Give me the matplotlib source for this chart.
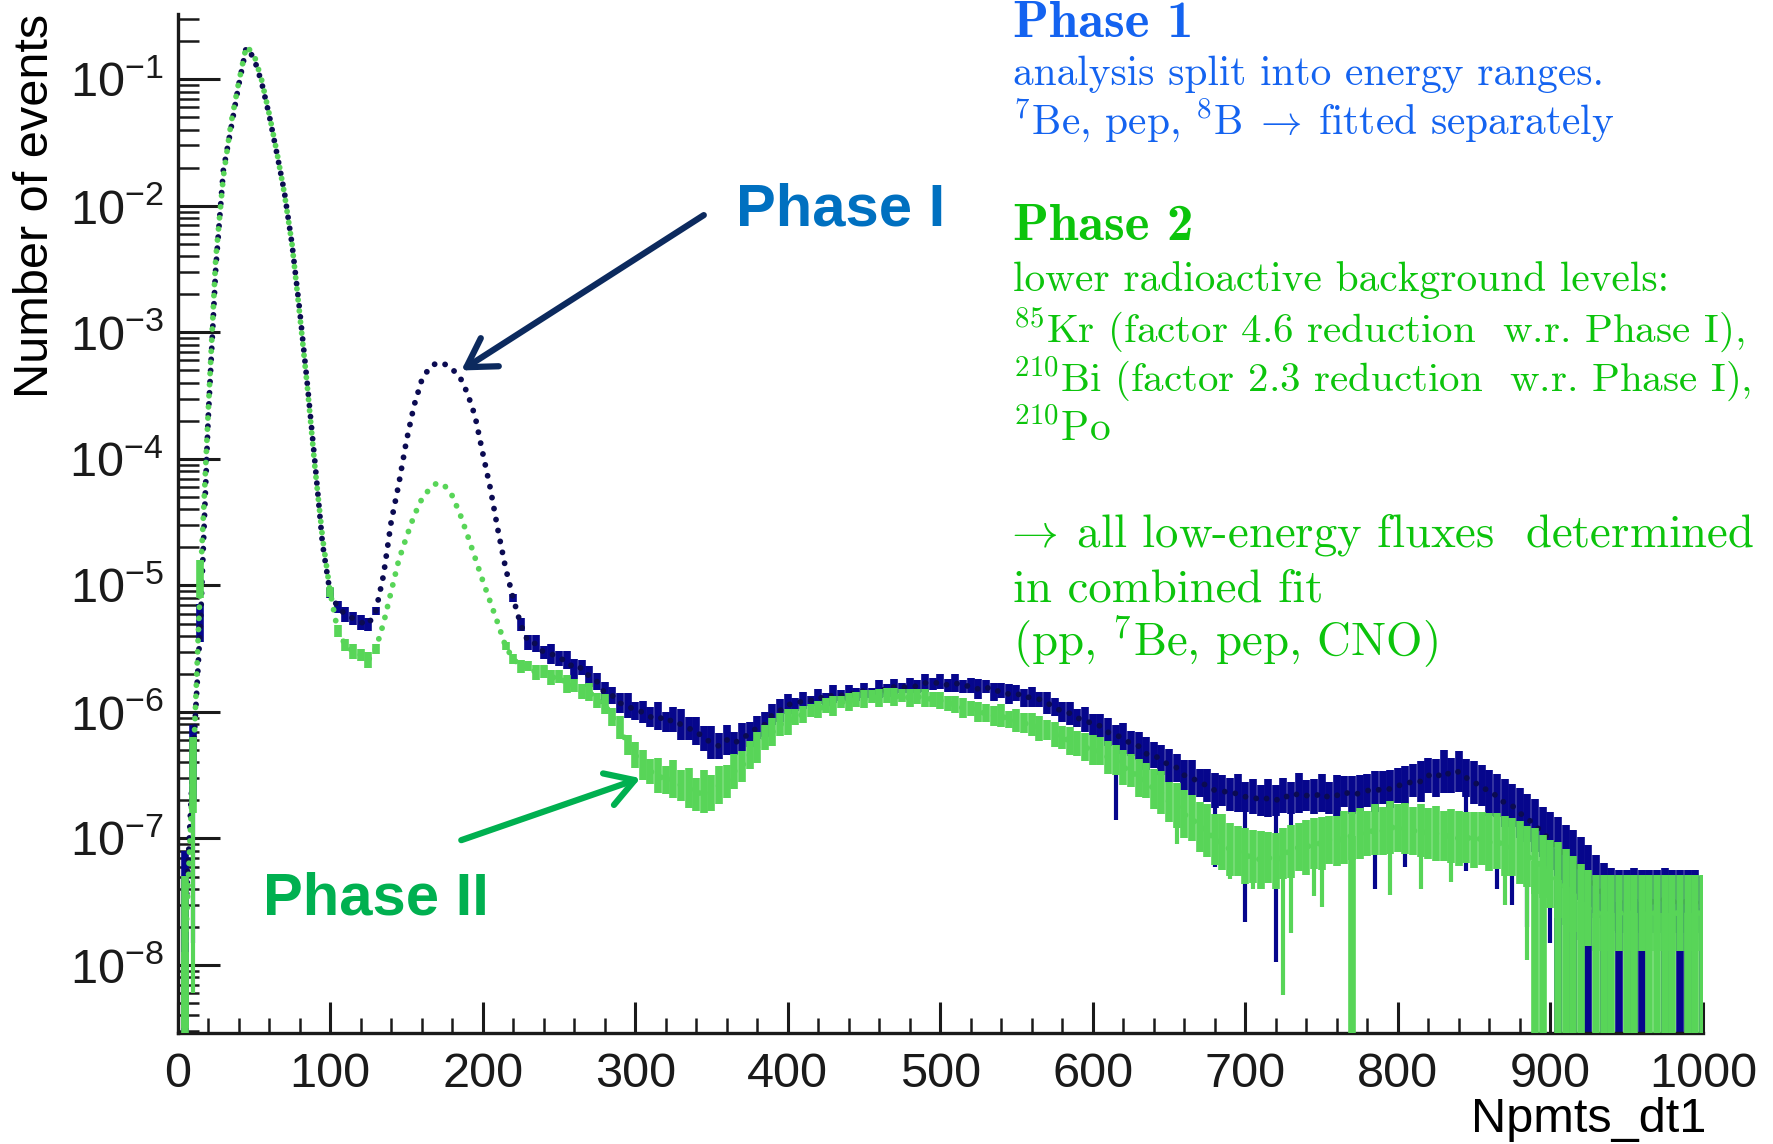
import numpy as np
import matplotlib
matplotlib.use("Agg")
import matplotlib.pyplot as plt
from matplotlib.ticker import LogLocator, MultipleLocator, LogFormatterSciNotation, NullFormatter

plt.rcParams['font.family'] = 'Liberation Sans'
plt.rcParams['mathtext.fontset'] = 'custom'
plt.rcParams['mathtext.rm'] = 'Liberation Sans'
plt.rcParams['mathtext.it'] = 'Liberation Sans:italic'
plt.rcParams['mathtext.bf'] = 'Liberation Sans:bold'

# bins of Npmts_dt1 (every 5th bin)
npmts = np.arange(5, 1001, 5)

# Phase I, log10(events)
phase1_log = [
    -7.7, -6.4, -5.3, -3.7, -2.5, -1.72, -1.39, -1.05, -0.75, -0.83, -1.02, -1.28, -1.58, -1.89, -2.3, -2.82, -3.4, -4.02, -4.67, -5.06,
    -5.17, -5.23, -5.26, -5.29, -5.31, -5.2, -4.92, -4.5, -4.2, -3.86, -3.58, -3.38, -3.28, -3.24, -3.25, -3.29, -3.35, -3.48, -3.66, -3.95,
    -4.23, -4.56, -4.86, -5.1, -5.31, -5.45, -5.46, -5.53, -5.54, -5.58, -5.59, -5.66, -5.65, -5.72, -5.76, -5.85, -5.87, -5.93, -5.95, -5.99,
    -6.0, -6.04, -6.03, -6.08, -6.06, -6.1, -6.13, -6.15, -6.21, -6.24, -6.27, -6.22, -6.25, -6.2, -6.18, -6.12, -6.1, -6.02, -5.99, -5.94,
    -5.94, -5.91, -5.91, -5.88, -5.9, -5.86, -5.87, -5.85, -5.86, -5.83, -5.85, -5.82, -5.83, -5.8, -5.81, -5.79, -5.8, -5.77, -5.78, -5.76,
    -5.79, -5.77, -5.8, -5.79, -5.82, -5.8, -5.84, -5.83, -5.86, -5.85, -5.89, -5.88, -5.9, -5.93, -5.96, -6.0, -6.01, -6.05, -6.06, -6.1,
    -6.11, -6.16, -6.18, -6.21, -6.25, -6.27, -6.33, -6.34, -6.38, -6.42, -6.44, -6.5, -6.52, -6.56, -6.58, -6.62, -6.62, -6.65, -6.64, -6.67,
    -6.67, -6.7, -6.68, -6.7, -6.66, -6.68, -6.64, -6.66, -6.67, -6.64, -6.68, -6.66, -6.63, -6.66, -6.64, -6.62, -6.63, -6.6, -6.61, -6.58,
    -6.58, -6.54, -6.55, -6.5, -6.52, -6.47, -6.5, -6.47, -6.52, -6.56, -6.58, -6.64, -6.66, -6.72, -6.74, -6.8, -6.84, -6.9, -6.95, -7.02,
    -7.08, -7.14, -7.18, -7.24, -7.3, -7.38, -7.44, -7.48, -7.5, -7.5, -7.48, -7.5, -7.5, -7.5, -7.48, -7.5, -7.5, -7.5, -7.5, -7.55,
]
# visible scatter of the Phase I band (dex)
phase1_spread = [
    0.6, 0.3, 0.15, 0, 0, 0, 0, 0, 0, 0, 0, 0, 0, 0, 0, 0, 0, 0, 0, 0.04,
    0.05, 0.06, 0.05, 0.06, 0.05, 0.03, 0, 0, 0, 0, 0, 0, 0, 0, 0, 0, 0, 0, 0, 0,
    0, 0, 0, 0.03, 0.05, 0.06, 0.07, 0.05, 0.08, 0.06, 0.07, 0.08, 0.06, 0.08, 0.07, 0.09, 0.07, 0.08, 0.1, 0.07,
    0.09, 0.08, 0.11, 0.08, 0.1, 0.12, 0.09, 0.11, 0.1, 0.13, 0.1, 0.12, 0.09, 0.11, 0.1, 0.09, 0.1, 0.08, 0.09, 0.08,
    0.05, 0.07, 0.04, 0.06, 0.05, 0.07, 0.04, 0.06, 0.05, 0.06, 0.04, 0.07, 0.05, 0.06, 0.04, 0.06, 0.05, 0.07, 0.05, 0.06,
    0.05, 0.07, 0.05, 0.06, 0.08, 0.05, 0.07, 0.06, 0.08, 0.06, 0.07, 0.08, 0.06, 0.09, 0.07, 0.08, 0.09, 0.07, 0.1, 0.08,
    0.09, 0.11, 0.08, 0.12, 0.1, 0.11, 0.13, 0.1, 0.12, 0.13, 0.11, 0.12, 0.14, 0.11, 0.13, 0.14, 0.12, 0.13, 0.15, 0.12,
    0.14, 0.12, 0.15, 0.12, 0.14, 0.13, 0.16, 0.12, 0.14, 0.15, 0.13, 0.16, 0.12, 0.15, 0.14, 0.13, 0.16, 0.13, 0.15, 0.14,
    0.15, 0.13, 0.16, 0.14, 0.15, 0.17, 0.14, 0.16, 0.15, 0.17, 0.16, 0.18, 0.17, 0.19, 0.17, 0.2, 0.19, 0.21, 0.2, 0.23,
    0.25, 0.25, 0.25, 0.25, 0.25, 0.25, 0.25, 0.25, 0.25, 0.25, 0.25, 0.25, 0.25, 0.25, 0.25, 0.25, 0.25, 0.25, 0.25, 0.25,
]
# bins where the Phase I error bar reaches far down
phase1_spike_x = [5, 10, 615, 680, 700, 720, 730, 785, 805, 845, 865, 875, 885, 900,
                  905, 915, 925, 935, 945, 955, 960, 975, 985, 990, 1000]
phase1_spike_lo = [1e-9, 1.5e-8, 1.4e-7, 6e-8, 2.2e-8, 1.05e-8, 5e-8, 4e-8, 6e-8, 5.5e-8, 4e-8, 3e-8, 2e-8, 1.5e-8,
                   1e-9, 1e-9, 1e-9, 1e-9, 1e-9, 1e-9, 1e-9, 1e-9, 1e-9, 1e-9, 1e-9]

# Phase II
phase2_log = [
    -7.9, -6.5, -4.95, -3.65, -2.42, -1.77, -1.35, -1.03, -0.74, -0.8, -1.0, -1.27, -1.57, -1.9, -2.3, -2.85, -3.42, -4.06, -4.62, -5.05,
    -5.36, -5.47, -5.52, -5.55, -5.59, -5.5, -5.3, -5.05, -4.8, -4.62, -4.45, -4.32, -4.24, -4.19, -4.21, -4.29, -4.43, -4.6, -4.78, -4.96,
    -5.13, -5.3, -5.48, -5.58, -5.64, -5.64, -5.69, -5.68, -5.73, -5.72, -5.78, -5.79, -5.84, -5.84, -5.91, -5.94, -6.04, -6.12, -6.26, -6.34,
    -6.42, -6.47, -6.5, -6.54, -6.53, -6.58, -6.6, -6.65, -6.63, -6.64, -6.58, -6.55, -6.47, -6.43, -6.34, -6.28, -6.2, -6.16, -6.1, -6.08,
    -6.04, -6.02, -5.99, -5.98, -5.95, -5.95, -5.92, -5.92, -5.9, -5.9, -5.88, -5.89, -5.87, -5.88, -5.87, -5.89, -5.88, -5.89, -5.9, -5.91,
    -5.93, -5.94, -5.97, -5.97, -6.0, -6.01, -6.03, -6.03, -6.06, -6.07, -6.09, -6.1, -6.13, -6.14, -6.18, -6.2, -6.23, -6.25, -6.28, -6.3,
    -6.31, -6.36, -6.38, -6.44, -6.46, -6.52, -6.54, -6.61, -6.64, -6.71, -6.74, -6.81, -6.84, -6.91, -6.94, -7.01, -7.03, -7.09, -7.1, -7.14,
    -7.14, -7.17, -7.15, -7.18, -7.12, -7.1, -7.07, -7.07, -7.04, -7.04, -7.01, -7.02, -6.99, -6.98, -6.96, -6.96, -6.93, -6.94, -6.91, -6.92,
    -6.92, -6.94, -6.94, -6.96, -6.96, -6.98, -6.98, -7.0, -6.99, -7.01, -7.0, -7.03, -7.02, -7.06, -7.07, -7.11, -7.14, -7.18, -7.22, -7.28,
    -7.33, -7.38, -7.44, -7.5, -7.55, -7.59, -7.59, -7.59, -7.59, -7.59, -7.59, -7.59, -7.59, -7.59, -7.59, -7.59, -7.59, -7.59, -7.59, -7.59,
]
phase2_spread = [
    0.6, 0.3, 0.15, 0, 0, 0, 0, 0, 0, 0, 0, 0, 0, 0, 0, 0, 0, 0, 0, 0.04,
    0.05, 0.05, 0.06, 0.05, 0.06, 0.04, 0, 0, 0, 0, 0, 0, 0, 0, 0, 0, 0, 0, 0, 0,
    0, 0, 0.03, 0.04, 0.05, 0.04, 0.06, 0.05, 0.06, 0.05, 0.07, 0.05, 0.06, 0.07, 0.06, 0.08, 0.07, 0.09, 0.08, 0.1,
    0.12, 0.1, 0.14, 0.11, 0.15, 0.12, 0.16, 0.13, 0.17, 0.14, 0.15, 0.13, 0.14, 0.12, 0.11, 0.12, 0.1, 0.11, 0.09, 0.1,
    0.06, 0.07, 0.05, 0.07, 0.06, 0.08, 0.05, 0.07, 0.06, 0.07, 0.05, 0.07, 0.06, 0.07, 0.05, 0.07, 0.06, 0.07, 0.06, 0.07,
    0.06, 0.07, 0.08, 0.06, 0.08, 0.07, 0.08, 0.09, 0.07, 0.09, 0.08, 0.09, 0.1, 0.08, 0.1, 0.09, 0.11, 0.1, 0.11, 0.12,
    0.11, 0.13, 0.12, 0.14, 0.13, 0.15, 0.14, 0.16, 0.17, 0.16, 0.18, 0.19, 0.18, 0.2, 0.21, 0.2, 0.22, 0.21, 0.2, 0.22,
    0.21, 0.23, 0.2, 0.22, 0.2, 0.21, 0.19, 0.22, 0.2, 0.21, 0.19, 0.2, 0.21, 0.19, 0.2, 0.18, 0.2, 0.19, 0.21, 0.19,
    0.2, 0.19, 0.21, 0.2, 0.22, 0.2, 0.21, 0.22, 0.2, 0.22, 0.21, 0.23, 0.22, 0.24, 0.23, 0.25, 0.24, 0.26, 0.25, 0.27,
    0.3, 0.3, 0.3, 0.3, 0.3, 0.3, 0.3, 0.3, 0.3, 0.3, 0.3, 0.3, 0.3, 0.3, 0.3, 0.3, 0.3, 0.3, 0.3, 0.3,
]
phase2_spike_x = [5, 10, 655, 690, 705, 725, 730, 745, 750, 770, 795, 815, 835, 860, 870, 885, 890, 895,
                  905, 910, 915, 920, 930, 935, 940, 950, 955, 965, 970, 975, 980, 990, 995, 1000]
phase2_spike_lo = [1e-9, 6e-9, 9e-8, 4.8e-8, 4e-8, 5.8e-9, 1.8e-8, 3.5e-8, 2.9e-8, 1e-9, 3.6e-8, 4e-8, 4.5e-8, 6e-8, 3e-8, 1.1e-8, 1e-9, 1e-9,
                   1e-9, 1e-9, 1e-9, 1e-9, 1e-9, 1e-9, 1e-9, 1e-9, 1e-9, 1e-9, 1e-9, 1e-9, 1e-9, 1e-9, 1e-9, 1e-9]

navy = '#06068c'
navy_dot = '#0b0b52'
green = '#58d558'

fig = plt.figure(figsize=(17.74, 11.44), dpi=100)
ax = fig.add_axes([0.1001, 0.097, 0.8598, 0.891])


def draw_phase(vals_log, spread, spike_x, spike_lo, col, dotcol, z):
    vals = 10.0 ** np.array(vals_log)
    sp = 10.0 ** np.array(spread)
    ax.vlines(npmts, vals / sp, vals * sp, color=col, lw=5.5, zorder=z)
    idx = np.searchsorted(npmts, spike_x)
    lo = np.array(spike_lo)
    widths = np.where(lo <= 1e-9, 5.5, 3.0)
    ax.vlines(spike_x, lo, vals[idx], color=col, linewidths=widths, zorder=z)
    ax.plot(npmts, vals, color=dotcol, lw=4.2, linestyle=(0, (0.01, 1.9)),
            dash_capstyle='round', zorder=z + 0.1)


draw_phase(phase1_log, phase1_spread, phase1_spike_x, phase1_spike_lo, navy, navy_dot, 2)
draw_phase(phase2_log, phase2_spread, phase2_spike_x, phase2_spike_lo, green, green, 3)

ax.set_yscale('log')
ax.set_xlim(0, 1000)
ax.set_ylim(2.9e-9, 0.33)

ax.spines['top'].set_visible(False)
ax.spines['right'].set_visible(False)
for s in ['left', 'bottom']:
    ax.spines[s].set_linewidth(2.4)
    ax.spines[s].set_color('#1a1a1a')

ax.yaxis.set_major_locator(LogLocator(base=10, numticks=20))
ax.yaxis.set_minor_locator(LogLocator(base=10, subs=np.arange(2, 10), numticks=100))
ax.yaxis.set_major_formatter(LogFormatterSciNotation())
ax.yaxis.set_minor_formatter(NullFormatter())
ax.xaxis.set_major_locator(MultipleLocator(100))
ax.xaxis.set_minor_locator(MultipleLocator(20))

ax.tick_params(axis='y', which='major', direction='in', length=30, width=2.2, pad=10, labelsize=35)
ax.tick_params(axis='y', which='minor', direction='in', length=15, width=1.8)
ax.tick_params(axis='x', which='major', direction='in', length=22, width=2.2, pad=14, labelsize=35)
ax.tick_params(axis='x', which='minor', direction='in', length=11, width=1.8)
ax.tick_params(top=False, right=False, which='both', colors='#1a1a1a')

fig.text(36 / 1774, 1 - 206 / 1144, 'Number of events', rotation=90,
         ha='center', va='center', fontsize=35)
fig.text(1706 / 1774, 1 - 1120 / 1144, 'Npmts_dt1', ha='right', va='center', fontsize=35)

# arrows and labels for the two phases
ax.annotate('', xy=(186, 5.0e-4), xytext=(345, 8.45e-3),
            arrowprops=dict(arrowstyle='->, head_length=0.5, head_width=0.3', lw=4.5,
                            color='#0c2a5e', mutation_scale=40, shrinkA=0, shrinkB=0))
ax.text(366, 7.05e-3, 'Phase I', fontsize=43, fontweight='bold', color='#0070c0',
        ha='left', va='baseline')
ax.annotate('', xy=(303.5, 3.0e-7), xytext=(186, 9.7e-8),
            arrowprops=dict(arrowstyle='->, head_length=0.5, head_width=0.3', lw=4.5,
                            color='#00b050', mutation_scale=40, shrinkA=0, shrinkB=0))
ax.text(55.7, 2.49e-8, 'Phase II', fontsize=43, fontweight='bold', color='#00b050',
        ha='left', va='baseline')

# notes on the right
blue = '#1463f0'
lime = '#0cc40c'
notes = [
    ('Phase 1', 37, blue, 'cmb10', 38),
    ('analysis split into energy ranges.', 85, blue, 'cmr10', 29.8),
    (r'$^{7}$Be, pep, $^{8}$B$\;\rightarrow\;$fitted separately', 133.5, blue, 'cmr10', 29.8),
    ('Phase 2', 240, lime, 'cmb10', 38),
    ('lower radioactive background levels:', 291, lime, 'cmr10', 29.8),
    (r'$^{85}$Kr (factor 4.6 reduction  w.r. Phase I),', 342, lime, 'cmr10', 29.5),
    (r'$^{210}$Bi (factor 2.3 reduction  w.r. Phase I),', 391.5, lime, 'cmr10', 29.5),
    (r'$^{210}$Po', 441, lime, 'cmr10', 29.8),
    (r'$\!\!\rightarrow\;$all low-energy fluxes  determined', 546.5, lime, 'cmr10', 33.7),
    ('in combined fit', 602, lime, 'cmr10', 33.7),
    (r'(pp, $^{7}$Be, pep, CNO)', 656, lime, 'cmr10', 33.7),
]
for txt, ypx, col, fam, size in notes:
    fig.text(1012.6 / 1774, 1 - ypx / 1144, txt, color=col, family=fam, fontsize=size,
             math_fontfamily='cm', ha='left', va='baseline')

fig.savefig('out.png', dpi=100, facecolor='white')
